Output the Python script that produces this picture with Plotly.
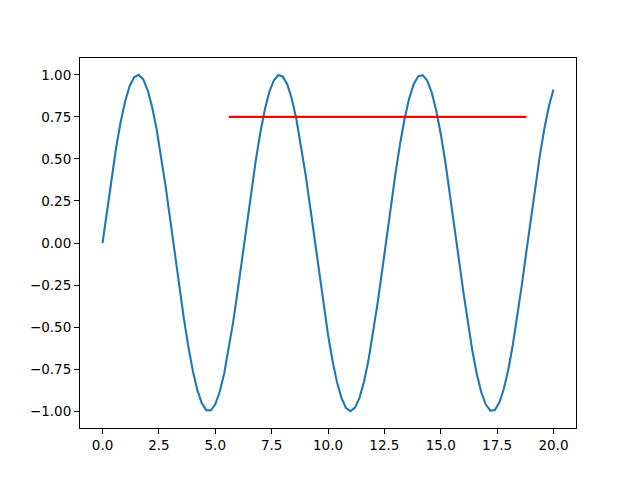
import plotly.graph_objects as go

# x positions (step 0.2 from 0 to 20) and values
x_vals = [round(i * 0.2, 1) for i in range(101)]
y_vals = [0.000, 0.199, 0.389, 0.565, 0.717, 0.841, 0.932, 0.985, 1.000, 0.974,
          0.909, 0.808, 0.675, 0.516, 0.335, 0.141, -0.058, -0.256, -0.443, -0.612,
          -0.757, -0.872, -0.952, -0.994, -0.996, -0.959, -0.883, -0.773, -0.631, -0.465,
          -0.279, -0.083, 0.117, 0.312, 0.494, 0.657, 0.794, 0.899, 0.968, 0.999,
          0.989, 0.941, 0.855, 0.734, 0.585, 0.412, 0.223, 0.025, -0.174, -0.366,
          -0.544, -0.700, -0.828, -0.922, -0.981, -1.000, -0.979, -0.919, -0.823, -0.693,
          -0.537, -0.358, -0.166, 0.034, 0.232, 0.420, 0.592, 0.740, 0.859, 0.944,
          0.991, 0.998, 0.966, 0.895, 0.788, 0.650, 0.486, 0.303, 0.108, -0.092,
          -0.288, -0.472, -0.638, -0.779, -0.888, -0.961, -0.997, -0.993, -0.949, -0.867,
          -0.751, -0.605, -0.435, -0.247, -0.050, 0.150, 0.343, 0.523, 0.682, 0.814,
          0.913]

hline_x = [5.6, 18.8]
hline_y = [0.75, 0.75]

x_ticks = [0, 2.5, 5, 7.5, 10, 12.5, 15, 17.5, 20]
x_tick_labels = ["0.0", "2.5", "5.0", "7.5", "10.0", "12.5", "15.0", "17.5", "20.0"]
y_ticks = [-1, -0.75, -0.5, -0.25, 0, 0.25, 0.5, 0.75, 1]
y_tick_labels = ["\u22121.00", "\u22120.75", "\u22120.50", "\u22120.25", "0.00",
                 "0.25", "0.50", "0.75", "1.00"]

fig = go.Figure()
fig.add_trace(go.Scatter(x=x_vals, y=y_vals, mode="lines",
                         line=dict(color="#1f77b4", width=2.1), showlegend=False))
fig.add_trace(go.Scatter(x=hline_x, y=hline_y, mode="lines",
                         line=dict(color="red", width=2.1), showlegend=False))

axis_common = dict(showgrid=False, zeroline=False, showline=True, linecolor="black",
                   linewidth=1, mirror=True, ticks="outside", ticklen=5,
                   tickwidth=1, tickcolor="black",
                   tickfont=dict(family="DejaVu Sans", size=13.5, color="black"))

fig.update_layout(
    width=632, height=472,
    margin=dict(l=72, r=64, t=50, b=52),
    paper_bgcolor="white", plot_bgcolor="white",
    xaxis=dict(range=[-1, 21], tickvals=x_ticks, ticktext=x_tick_labels, **axis_common),
    yaxis=dict(range=[-1.1, 1.1], tickvals=y_ticks, ticktext=y_tick_labels, **axis_common),
)

fig.write_html("out.html")
